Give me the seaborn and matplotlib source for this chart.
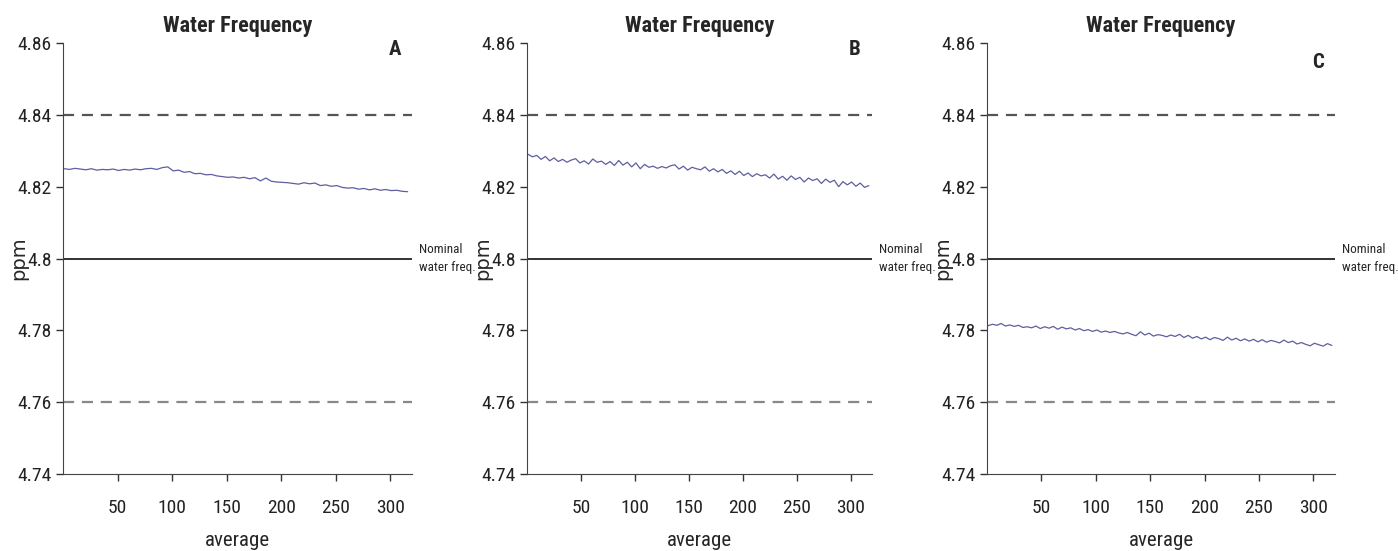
import pandas as pd
import seaborn as sns
from matplotlib import pyplot as plt

# averaging index for each trace
avg_a = list(range(1, 320, 5))
avg_bc = list(range(1, 320, 4))

freq_a = [4.8250, 4.8248, 4.8251, 4.8249, 4.8247, 4.8250, 4.8246, 4.8248, 4.8247, 4.8249,
          4.8245, 4.8248, 4.8246, 4.8249, 4.8247, 4.8250, 4.8251, 4.8248, 4.8253, 4.8255,
          4.8244, 4.8246, 4.8240, 4.8242, 4.8236, 4.8237, 4.8233, 4.8234, 4.8230, 4.8228,
          4.8226, 4.8227, 4.8224, 4.8226, 4.8222, 4.8225, 4.8216, 4.8224, 4.8215, 4.8213,
          4.8212, 4.8211, 4.8209, 4.8207, 4.8211, 4.8208, 4.8210, 4.8203, 4.8205, 4.8201,
          4.8203, 4.8198, 4.8196, 4.8197, 4.8193, 4.8195, 4.8191, 4.8194, 4.8190, 4.8192,
          4.8189, 4.8190, 4.8187, 4.8186]

freq_b = [4.8290, 4.8283, 4.8287, 4.8276, 4.8284, 4.8272, 4.8280, 4.8270, 4.8276, 4.8268,
          4.8274, 4.8278, 4.8266, 4.8272, 4.8263, 4.8277, 4.8268, 4.8271, 4.8262, 4.8270,
          4.8259, 4.8273, 4.8260, 4.8268, 4.8255, 4.8266, 4.8250, 4.8262, 4.8254, 4.8257,
          4.8251, 4.8256, 4.8252, 4.8258, 4.8261, 4.8249, 4.8257, 4.8246, 4.8254, 4.8250,
          4.8247, 4.8255, 4.8243, 4.8250, 4.8241, 4.8248, 4.8237, 4.8244, 4.8234, 4.8243,
          4.8231, 4.8238, 4.8228, 4.8236, 4.8230, 4.8233, 4.8224, 4.8235, 4.8221, 4.8229,
          4.8218, 4.8230, 4.8220, 4.8226, 4.8213, 4.8224, 4.8217, 4.8222, 4.8209, 4.8221,
          4.8212, 4.8218, 4.8200, 4.8214, 4.8205, 4.8213, 4.8201, 4.8210, 4.8198, 4.8203]

freq_c = [4.7813, 4.7817, 4.7814, 4.7819, 4.7812, 4.7815, 4.7811, 4.7814, 4.7808, 4.7810,
          4.7807, 4.7812, 4.7805, 4.7810, 4.7806, 4.7811, 4.7803, 4.7809, 4.7804, 4.7807,
          4.7801, 4.7805, 4.7799, 4.7802, 4.7797, 4.7801, 4.7795, 4.7798, 4.7794, 4.7797,
          4.7793, 4.7790, 4.7794, 4.7789, 4.7785, 4.7796, 4.7787, 4.7792, 4.7784, 4.7788,
          4.7786, 4.7782, 4.7787, 4.7783, 4.7789, 4.7780, 4.7786, 4.7778, 4.7783, 4.7776,
          4.7781, 4.7774, 4.7780, 4.7777, 4.7772, 4.7781, 4.7773, 4.7778, 4.7771, 4.7776,
          4.7770, 4.7775, 4.7768, 4.7774, 4.7767, 4.7772, 4.7769, 4.7765, 4.7773, 4.7766,
          4.7770, 4.7762, 4.7766, 4.7761, 4.7757, 4.7764, 4.7760, 4.7756, 4.7763, 4.7758]

panels = ["A", "B", "C"]
nominal = 4.8
upper_limit = 4.84
lower_limit = 4.76
y_ticks = [4.74, 4.76, 4.78, 4.8, 4.82, 4.84, 4.86]
y_tick_labels = ["4.74", "4.76", "4.78", "4.8", "4.82", "4.84", "4.86"]
x_ticks = [50, 100, 150, 200, 250, 300]

sns.set_style("ticks")
plt.rcParams['font.family'] = ['Roboto Condensed', 'Archivo Narrow', 'Asap Condensed', 'DejaVu Sans']

fig = plt.figure(figsize=(13.98, 5.51), dpi=100)
lefts = [0.0451, 0.377, 0.706]
widths = [0.2496, 0.2468, 0.249]
letter_y = [0.984, 0.984, 0.955]
series = [(avg_a, freq_a), (avg_bc, freq_b), (avg_bc, freq_c)]

for i, name in enumerate(panels):
    ax = fig.add_axes([lefts[i], 0.1397, widths[i], 0.7823])
    xs, ys = series[i]
    df = pd.DataFrame({'average': xs, 'ppm': ys})
    ax.axhline(upper_limit, color='#555555', lw=1.6, ls=(0, (5, 3.5)))
    ax.axhline(lower_limit, color='#888888', lw=1.6, ls=(0, (5, 3.5)))
    ax.axhline(nominal, color='#222222', lw=1.3)
    sns.lineplot(data=df, x='average', y='ppm', ax=ax, color='#5e5ea0', lw=0.9)

    ax.set_xlim(0, 320)
    ax.set_ylim(4.74, 4.86)
    ax.set_yticks(y_ticks)
    ax.set_yticklabels(y_tick_labels)
    ax.set_xticks(x_ticks)
    ax.tick_params(labelsize=14, length=5, width=1, colors='#333333', labelcolor='#222222')
    ax.tick_params(axis='y', pad=3)
    ax.tick_params(axis='x', pad=13)
    ax.set_xlabel("average", fontsize=15, labelpad=10)
    ax.set_ylabel("ppm", fontsize=14, family=['DejaVu Sans'])
    ax.yaxis.set_label_coords(-0.10, 0.5)
    ax.set_title("Water Frequency", fontsize=16, fontweight='bold', pad=8)
    ax.text(0.95, letter_y[i], name, transform=ax.transAxes, fontsize=15,
            fontweight='bold', ha='center', va='center')
    ax.text(1.02, nominal, "Nominal\nwater freq.", transform=ax.get_yaxis_transform(),
            fontsize=9.5, ha='left', va='center', linespacing=1.45)
    for s in ['left', 'bottom']:
        ax.spines[s].set_color('#444444')
    sns.despine(ax=ax)

fig.savefig("out.png", dpi=100)
